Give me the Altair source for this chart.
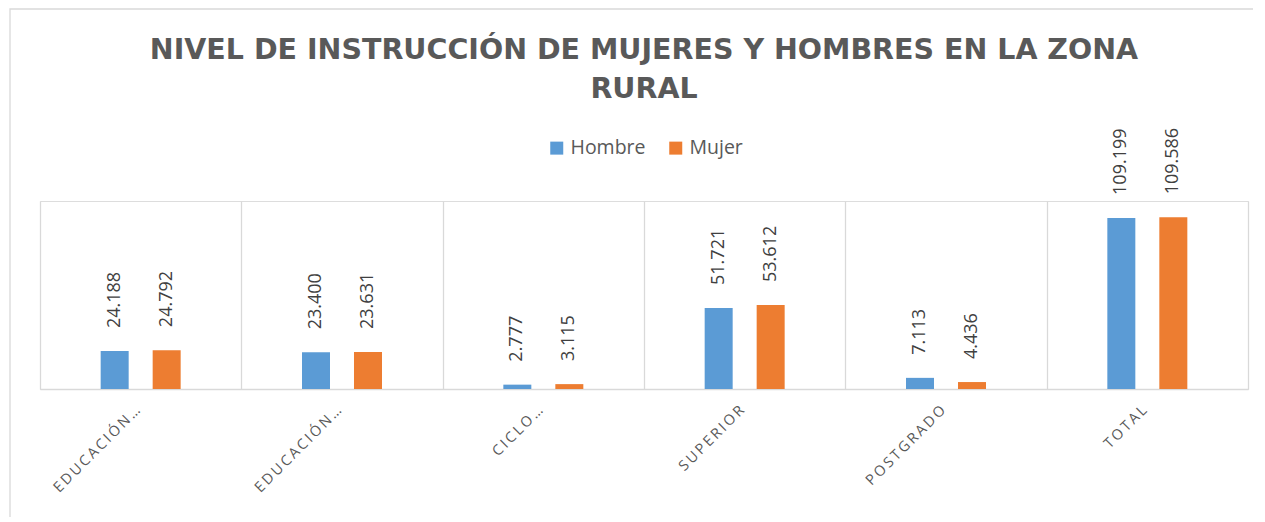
import altair as alt
import pandas as pd

categorias = ["EDUCACIÓN…", "EDUCACIÓN…", "CICLO…", "SUPERIOR", "POSTGRADO", "TOTAL"]
sexos = ["Hombre", "Mujer"]
hombre = [24188, 23400, 2777, 51721, 7113, 109199]
mujer = [24792, 23631, 3115, 53612, 4436, 109586]
colores = ["#5b9bd5", "#ed7d31"]

rows = []
for i in range(len(categorias)):
    rows.append({"cat": i, "sexo": "Hombre", "valor": hombre[i]})
    rows.append({"cat": i, "sexo": "Mujer", "valor": mujer[i]})
df = pd.DataFrame(rows)

labels_js = "[" + ",".join("'" + c + "'" for c in categorias) + "]"
label_expr = ("isValid(datum.value) ? join(split(" + labels_js
              + "[datum.value], ''), '\u2009') : ''")

x_enc = alt.X(
    "cat:O",
    scale=alt.Scale(paddingInner=0, paddingOuter=0),
    axis=alt.Axis(
        title=None, labelAngle=315, labelAlign="right", labelBaseline="middle",
        labelPadding=19, labelOffset=-3, ticks=False, grid=True,
        gridColor="#d9d9d9", gridWidth=1.3,
        domainColor="#d9d9d9", domainWidth=1.5, tickBand="extent",
        labelFont="Open Sans", labelFontSize=14.5, labelColor="#595959",
        labelExpr=label_expr, labelLimit=0,
    ),
)
xoff = alt.XOffset("sexo:N", sort=sexos,
                   scale=alt.Scale(paddingInner=0.128, paddingOuter=1))
y_enc = alt.Y("valor:Q", scale=alt.Scale(domain=[0, 120000]), axis=None)

base = alt.Chart(df)

bars = base.mark_bar(width=28).encode(
    x=x_enc, xOffset=xoff, y=y_enc,
    color=alt.Color(
        "sexo:N", sort=sexos, scale=alt.Scale(domain=sexos, range=colores),
        legend=alt.Legend(
            orient="none", legendX=507, legendY=-63, direction="horizontal",
            title=None, symbolType="square", symbolSize=169, symbolStrokeWidth=0,
            labelFont="Open Sans", labelFontSize=19.5, labelColor="#595959",
            labelOffset=4, columnPadding=20, padding=0,
        ),
    ),
)

text = base.mark_text(
    angle=270, align="left", baseline="middle", dx=23,
    font="Open Sans", fontSize=18, color="#404040",
).encode(
    x=x_enc, xOffset=xoff, y=y_enc,
    text=alt.Text("valor:Q", format=",d"),
)

border = alt.Chart(alt.Data(values=[{"a": 1}])).mark_rect(
    fillOpacity=0, stroke="#d9d9d9", strokeWidth=1.3
).encode(
    x=alt.value(-30), x2=alt.value(1400), y=alt.value(-192), y2=alt.value(500)
)

chart = alt.layer(border, bars, text).properties(
    width=1208, height=188,
    padding={"left": 32, "top": 193, "right": 5, "bottom": 128},
    autosize=alt.AutoSizeParams(type="none"),
    title=alt.TitleParams(
        text=["NIVEL DE INSTRUCCIÓN DE MUJERES Y HOMBRES EN LA ZONA", "RURAL"],
        font="DejaVu Sans", fontSize=28.5, fontWeight="bold", color="#595959",
        anchor="middle", lineHeight=39, offset=0, dy=95,
    ),
).configure_view(stroke=None).configure(
    locale={"number": {"decimal": ",", "thousands": ".", "grouping": [3],
                       "currency": ["", " €"]}}
)

chart.save("out.html", embed_options={"renderer": "svg", "actions": False})
